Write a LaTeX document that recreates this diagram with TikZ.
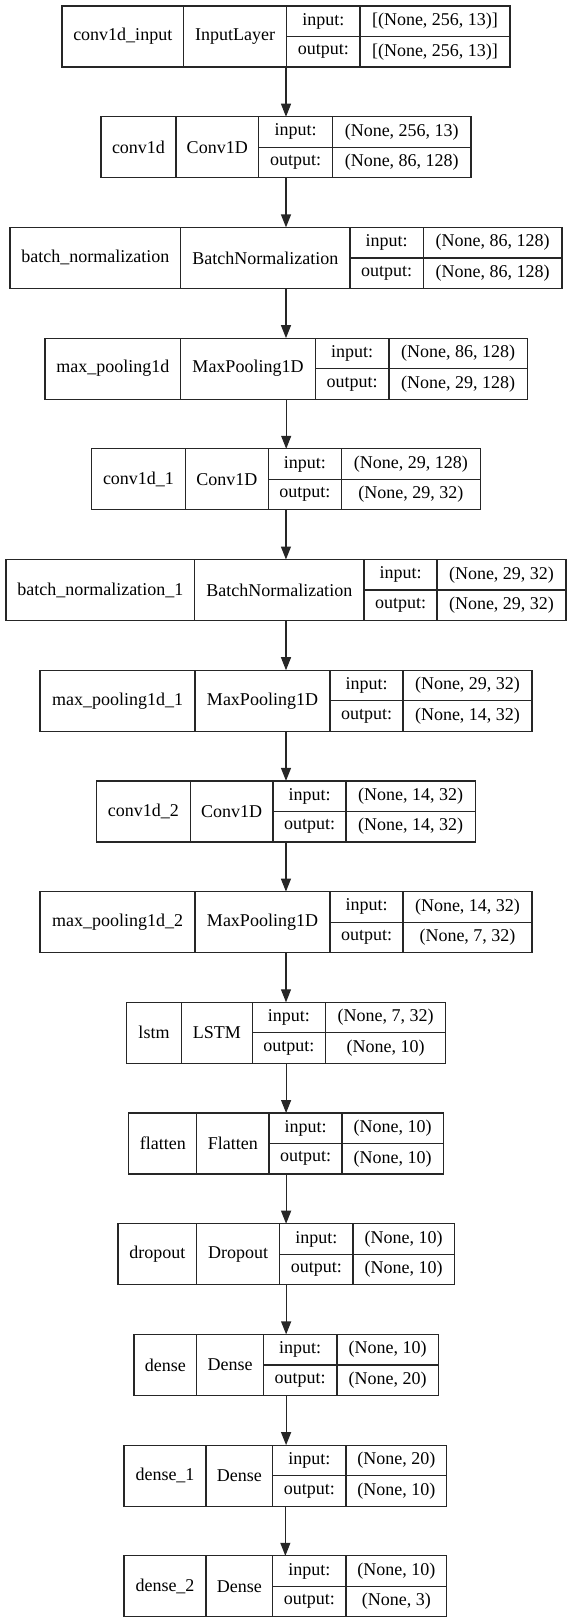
\documentclass[tikz,border=0pt]{standalone}
\usepackage{fontspec}
\setmainfont{Liberation Serif}
\usetikzlibrary{arrows.meta}

\tikzset{
    cell/.style={draw=black!85, line width=1.2pt, inner sep=0pt, outer sep=0pt, anchor=north west, font=\fontsize{18}{20}\selectfont},
    frame/.style={draw=black!85, line width=1.2pt, inner sep=0pt, outer sep=0pt, anchor=north west},
    flow/.style={draw=black!85, line width=1.2pt, -{Triangle[length=13pt, width=10pt]}}
}

\begin{document}
\begin{tikzpicture}[x=1pt, y=-1pt]
    \useasboundingbox (0,0) rectangle (572,1623);

    % one row per layer: name/type/input/output/cell borders
    \foreach \nm/\tp/\vin/\vout/\a/\b/\c/\d/\e [count=\k from 0] in {
        conv1d\_input/InputLayer/{[(None, 256, 13)]}/{[(None, 256, 13)]}/62/183.5/286.5/360/510,
        conv1d/Conv1D/{(None, 256, 13)}/{(None, 86, 128)}/101/176/258.5/332.5/471,
        batch\_normalization/BatchNormalization/{(None, 86, 128)}/{(None, 86, 128)}/10/180.7/350/423.4/562,
        max\_pooling1d/MaxPooling1D/{(None, 86, 128)}/{(None, 29, 128)}/45/180.7/315.3/389/527.4,
        conv1d\_1/Conv1D/{(None, 29, 128)}/{(None, 29, 32)}/91.6/185.4/268.2/341.6/480.3,
        batch\_normalization\_1/BatchNormalization/{(None, 29, 32)}/{(None, 29, 32)}/6/194.5/364/437/566,
        max\_pooling1d\_1/MaxPooling1D/{(None, 29, 32)}/{(None, 14, 32)}/40/195/330/403/532,
        conv1d\_2/Conv1D/{(None, 14, 32)}/{(None, 14, 32)}/96.7/190.1/273/346/475.2,
        max\_pooling1d\_2/MaxPooling1D/{(None, 14, 32)}/{(None, 7, 32)}/40/195/330/403/532,
        lstm/LSTM/{(None, 7, 32)}/{(None, 10)}/126.6/181.4/252.2/325.5/445.6,
        flatten/Flatten/{(None, 10)}/{(None, 10)}/128.8/196.7/269/342/443.4,
        dropout/Dropout/{(None, 10)}/{(None, 10)}/117.9/196.7/279.6/352.9/454.4,
        dense/Dense/{(None, 10)}/{(None, 20)}/133.9/196.7/263.5/336.9/438.3,
        dense\_1/Dense/{(None, 20)}/{(None, 10)}/124/206/272.7/346/446.7,
        dense\_2/Dense/{(None, 10)}/{(None, 3)}/124/206/272.7/346/446.7} {
        \pgfmathsetmacro\ytop{6+110.7*\k}
        \node[frame, minimum width={(\e-\a)*1pt}, minimum height=61pt] (l\k) at (\a,\ytop) {};
        \node[cell, minimum width={(\b-\a)*1pt}, minimum height=61pt] (nm\k) at (\a,\ytop) {\nm};
        \node[cell, minimum width={(\c-\b)*1pt}, minimum height=61pt] (tp\k) at (\b,\ytop) {\tp};
        \node[cell, minimum width={(\d-\c)*1pt}, minimum height=30.5pt] (ia\k) at (\c,\ytop) {input:};
        \node[cell, minimum width={(\d-\c)*1pt}, minimum height=30.5pt] (oa\k) at (\c,\ytop+30.5) {output:};
        \node[cell, minimum width={(\e-\d)*1pt}, minimum height=30.5pt] (iv\k) at (\d,\ytop) {\vin};
        \node[cell, minimum width={(\e-\d)*1pt}, minimum height=30.5pt] (ov\k) at (\d,\ytop+30.5) {\vout};
    }

    \foreach \i [evaluate=\i as \j using int(\i+1)] in {0,...,13} {
        \draw[flow] (l\i.south) -- (l\i.south |- l\j.north);
    }
\end{tikzpicture}
\end{document}
